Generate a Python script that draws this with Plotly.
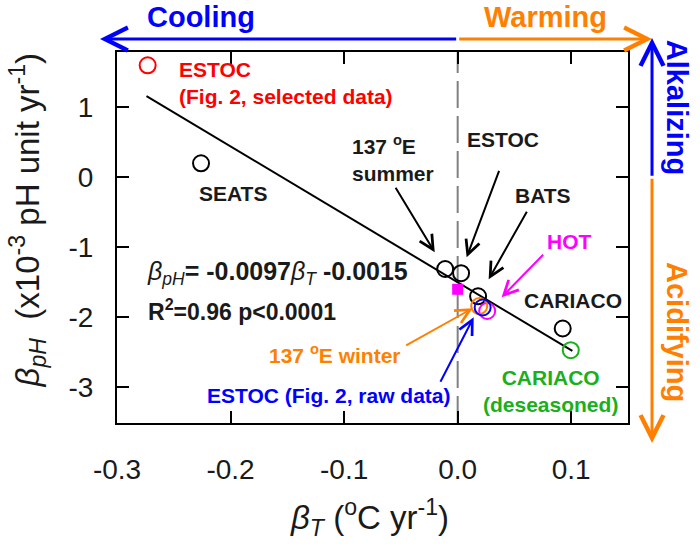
import plotly.graph_objects as go

# ---------------- data ----------------
sites = ["ESTOC (Fig. 2, selected data)", "SEATS", "137 E summer", "ESTOC", "BATS",
         "CARIACO", "CARIACO (deseasoned)", "HOT", "137 E winter", "ESTOC (Fig. 2, raw data)"]
beta_T = [-0.273, -0.226, -0.011, 0.003, 0.018, 0.0925, 0.0996, 0.026, 0.019, 0.022]
beta_pH = [1.60, 0.20, -1.31, -1.37, -1.70, -2.16, -2.47, -1.91, -1.84, -1.86]

square_T = [0.0]
square_pH = [-1.60]

fit_T = [-0.274, 0.101]
fit_pH = [1.16, -2.48]

x_ticks = [-0.3, -0.2, -0.1, 0.0, 0.1]
x_ticklabels = ["-0.3", "-0.2", "-0.1", "0.0", "0.1"]
y_ticks = [1, 0, -1, -2, -3]
y_ticklabels = ["1", "0", "-1", "-2", "-3"]

# ---------------- styles ----------------
RED = "#ff0000"
BLUE = "#0000ff"
ORANGE = "#ff8000"
MAGENTA = "#ff00ff"
GREEN = "#1ab01a"
BLACK = "#000000"
TXT = "#1a1a1a"
site_color = {
    "ESTOC (Fig. 2, selected data)": RED, "SEATS": BLACK, "137 E summer": BLACK,
    "ESTOC": BLACK, "BATS": BLACK, "CARIACO": BLACK, "CARIACO (deseasoned)": GREEN,
    "HOT": MAGENTA, "137 E winter": ORANGE, "ESTOC (Fig. 2, raw data)": BLUE,
}
FONT = "Liberation Sans, Arial, sans-serif"
XR = [-0.3, 0.15]
YR = [-3.51, 1.79]

fig = go.Figure()

# regression line
fig.add_trace(go.Scatter(x=fit_T, y=fit_pH, mode="lines",
                         line=dict(color=BLACK, width=2), showlegend=False, hoverinfo="skip"))

# open circles
for name, xv, yv in zip(sites, beta_T, beta_pH):
    fig.add_trace(go.Scatter(x=[xv], y=[yv], mode="markers", name=name, showlegend=False,
                             marker=dict(symbol="circle-open", size=16,
                                         line=dict(color=site_color[name], width=2),
                                         color=site_color[name])))

# magenta square
fig.add_trace(go.Scatter(x=square_T, y=square_pH, mode="markers", showlegend=False,
                         marker=dict(symbol="square", size=11, color=MAGENTA)))

# dashed zero line
fig.add_shape(type="line", xref="x", yref="paper", x0=0, x1=0, y0=0, y1=1,
              line=dict(color="#808080", width=2, dash="27px,8px"), layer="below")

ann = []

def txt(x, y, text, color=TXT, size=21, xanchor="center", align="center", ref="x"):
    ann.append(dict(x=x, y=y, xref=ref if ref == "paper" else "x",
                    yref="paper" if ref == "paper" else "y",
                    text=text, showarrow=False, xanchor=xanchor, yanchor="middle", align=align,
                    font=dict(family=FONT, size=size, color=color)))

def arrow(x, y, ax, ay, color=BLACK, width=2, size=1.4, ref="x"):
    ann.append(dict(x=x, y=y, xref=ref if ref == "paper" else "x",
                    yref="paper" if ref == "paper" else "y",
                    ax=ax, ay=ay, axref="pixel", ayref="pixel", text="", showarrow=True,
                    arrowhead=5, arrowsize=size, arrowwidth=width, arrowcolor=color, standoff=0))

# point labels
txt(-0.2474, 1.343, "<b>ESTOC<br>(Fig. 2, selected data)</b>", RED, xanchor="left", align="left")
txt(-0.198, -0.229, "<b>SEATS</b>")
txt(-0.0951, 0.271, "<b>137 <sup>o</sup>E<br>summer</b>", xanchor="left", align="left")
txt(0.0396, 0.543, "<b>ESTOC</b>")
txt(0.0748, -0.257, "<b>BATS</b>")
txt(0.0986, -0.914, "<b>HOT</b>", MAGENTA)
txt(0.102, -1.757, "<b>CARIACO</b>")
txt(0.0819, -3.057, "<b>CARIACO<br>(deseasoned)</b>", GREEN)
txt(-0.168, -2.529, "<b>137 <sup>o</sup>E winter</b>", ORANGE, xanchor="left", align="left")
txt(-0.1136, -3.114, "<b>ESTOC (Fig. 2, raw data)</b>", BLUE)
txt(-0.2755, -1.371, "<i>β<sub>pH</sub></i><b>= -0.0097</b><i>β<sub>T</sub></i><b> -0.0015</b>",
    size=25, xanchor="left", align="left")
txt(-0.2745, -1.90, "<b>R<sup>2</sup>=0.96 p&lt;0.0001</b>", size=23, xanchor="left", align="left")

# pointer arrows
arrow(-0.0202, -1.071, -40, -66)
arrow(0.0079, -1.143, 33, -88)
arrow(0.0273, -1.457, 39, -69)
arrow(0.0387, -1.714, 43, -44, MAGENTA)
arrow(0.0132, -1.871, -68, 38, ORANGE)
arrow(0.0141, -2.000, -34, 66, BLUE)

# outer direction arrows (paper coords)
px_w = 511.0
px_h = 371.0
x0p = (0 - XR[0]) / (XR[1] - XR[0])
y0p = (0 - YR[0]) / (YR[1] - YR[0])
hy = 1.035
arrow(-0.0333, hy, (x0p + 0.0333) * px_w, 0, BLUE, 3, 1.5, "paper")
arrow(1.047, hy, (x0p - 1.047) * px_w, 0, ORANGE, 3, 1.5, "paper")
vx = 1.047
arrow(vx, 1.038, 0, (1.038 - y0p) * px_h, BLUE, 3, 1.5, "paper")
arrow(vx, -0.054, 0, (-0.054 - y0p) * px_h, ORANGE, 3, 1.5, "paper")

txt(0.164, 1.095, "<b>Cooling</b>", BLUE, 29, ref="paper")
txt(0.8376, 1.095, "<b>Warming</b>", ORANGE, 29, ref="paper")
for t, yy, c in [("<b>Alkalizing</b>", 0.852, BLUE), ("<b>Acidifying</b>", 0.245, ORANGE)]:
    ann.append(dict(x=1.096, y=yy, xref="paper", yref="paper", text=t, showarrow=False,
                    textangle=90, xanchor="center", yanchor="middle",
                    font=dict(family=FONT, size=29, color=c)))

# axis titles as annotations
ann.append(dict(x=-0.175, y=0.545, xref="paper", yref="paper", textangle=-90, showarrow=False,
                text="<i>β<sub>pH</sub></i>  (x10<sup>-3</sup> pH unit yr<sup>-1</sup>)",
                xanchor="center", yanchor="middle", font=dict(family=FONT, size=33, color=TXT)))
ann.append(dict(x=0.495, y=-0.255, xref="paper", yref="paper", showarrow=False,
                text="<i>β<sub>T</sub></i> (<sup>o</sup>C yr<sup>-1</sup>)",
                xanchor="center", yanchor="middle", font=dict(family=FONT, size=33, color=TXT)))

axis_common = dict(showline=True, linecolor=BLACK, linewidth=2, mirror="ticks", ticks="inside",
                   ticklen=12, tickwidth=2, tickcolor=BLACK, showgrid=False, zeroline=False,
                   automargin=False, tickfont=dict(family=FONT, size=28, color=TXT))
fig.update_xaxes(range=XR, tickvals=x_ticks, ticktext=x_ticklabels, ticklabelstandoff=20,
                 **axis_common)
fig.update_yaxes(range=YR, tickvals=y_ticks, ticktext=y_ticklabels, ticklabelstandoff=16,
                 **axis_common)

fig.update_layout(width=700, height=549, margin=dict(l=117, r=72, t=52, b=126, autoexpand=False),
                  plot_bgcolor="white", paper_bgcolor="white", annotations=ann,
                  showlegend=False)

fig.write_html("out.html", config={"displayModeBar": False},
               post_script="document.body.style.margin='0';document.body.style.overflow='hidden';")
